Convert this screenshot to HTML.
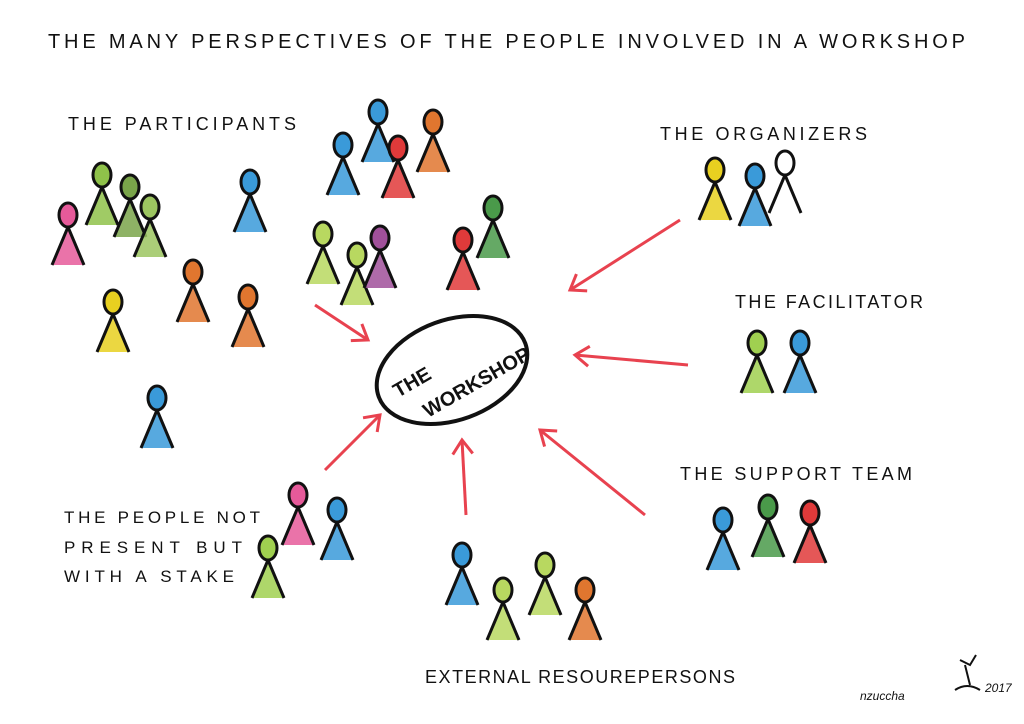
<!DOCTYPE html>
<html><head><meta charset="utf-8"><style>
html,body{margin:0;padding:0;background:#fff;}
svg{display:block}
text{font-family:"Liberation Sans",sans-serif;fill:#111;}
</style></head><body>
<svg width="1024" height="724" viewBox="0 0 1024 724" xmlns="http://www.w3.org/2000/svg">
<defs>
<marker id="ah" markerWidth="24" markerHeight="24" refX="16" refY="12" orient="auto" markerUnits="userSpaceOnUse">
<path d="M2,2 L16,12 L2,22" fill="none" stroke="#e8424f" stroke-width="3"/>
</marker>
<g id="fig">
<path d="M0,12 L-15,50 L15,50 Z" fill="currentColor" opacity="0.85"/>
<path d="M0,12 L-16,50 M0,12 L16,50" stroke="#111" stroke-width="3" fill="none"/>
<ellipse cx="0" cy="0" rx="9" ry="12" fill="currentColor" stroke="#111" stroke-width="3"/>
</g>
</defs>
<text x="48" y="48" font-size="20" textLength="917" lengthAdjust="spacing">THE MANY PERSPECTIVES OF THE PEOPLE INVOLVED IN A WORKSHOP</text>
<text x="68" y="130" font-size="18" textLength="228" lengthAdjust="spacing">THE PARTICIPANTS</text>
<text x="660" y="140" font-size="18" textLength="207" lengthAdjust="spacing">THE ORGANIZERS</text>
<text x="735" y="308" font-size="18" textLength="188" lengthAdjust="spacing">THE FACILITATOR</text>
<text x="680" y="480" font-size="18" textLength="232" lengthAdjust="spacing">THE SUPPORT TEAM</text>
<text x="64" y="523" font-size="17" textLength="196" lengthAdjust="spacing">THE PEOPLE NOT</text>
<text x="64" y="553" font-size="17" textLength="178" lengthAdjust="spacing">PRESENT BUT</text>
<text x="64" y="582" font-size="17" textLength="170" lengthAdjust="spacing">WITH A STAKE</text>
<text x="425" y="683" font-size="18" textLength="310" lengthAdjust="spacing">EXTERNAL RESOUREPERSONS</text>
<text x="860" y="700" font-size="12" font-style="italic">nzuccha</text>
<text x="985" y="692" font-size="12" font-style="italic">2017</text>
<path d="M955,690 q12,-8 25,0 M965,665 l5,20 M960,660 l10,5 l6,-10" stroke="#111" stroke-width="2" fill="none"/>

<g style="color:#e65a9a"><use href="#fig" x="68" y="215"/></g>
<g style="color:#8fc24a"><use href="#fig" x="102" y="175"/></g>
<g style="color:#7aa54a"><use href="#fig" x="130" y="187"/></g>
<g style="color:#9cc560"><use href="#fig" x="150" y="207"/></g>
<g style="color:#3a9ad9"><use href="#fig" x="250" y="182"/></g>
<g style="color:#e0762f"><use href="#fig" x="193" y="272"/></g>
<g style="color:#e8d020"><use href="#fig" x="113" y="302"/></g>
<g style="color:#e0762f"><use href="#fig" x="248" y="297"/></g>
<g style="color:#3a9ad9"><use href="#fig" x="157" y="398"/></g>
<g style="color:#3a9ad9"><use href="#fig" x="343" y="145"/></g>
<g style="color:#3a9ad9"><use href="#fig" x="378" y="112"/></g>
<g style="color:#e03a3a"><use href="#fig" x="398" y="148"/></g>
<g style="color:#e0762f"><use href="#fig" x="433" y="122"/></g>
<g style="color:#b8d860"><use href="#fig" x="323" y="234"/></g>
<g style="color:#b8d860"><use href="#fig" x="357" y="255"/></g>
<g style="color:#a0509a"><use href="#fig" x="380" y="238"/></g>
<g style="color:#e03a3a"><use href="#fig" x="463" y="240"/></g>
<g style="color:#4a9a4a"><use href="#fig" x="493" y="208"/></g>
<g style="color:#e8d020"><use href="#fig" x="715" y="170"/></g>
<g style="color:#3a9ad9"><use href="#fig" x="755" y="176"/></g>
<g style="color:#fff"><use href="#fig" x="785" y="163"/></g>
<g style="color:#a0d050"><use href="#fig" x="757" y="343"/></g>
<g style="color:#3a9ad9"><use href="#fig" x="800" y="343"/></g>
<g style="color:#3a9ad9"><use href="#fig" x="723" y="520"/></g>
<g style="color:#4a9a4a"><use href="#fig" x="768" y="507"/></g>
<g style="color:#e03a3a"><use href="#fig" x="810" y="513"/></g>
<g style="color:#e65a9a"><use href="#fig" x="298" y="495"/></g>
<g style="color:#3a9ad9"><use href="#fig" x="337" y="510"/></g>
<g style="color:#a0d050"><use href="#fig" x="268" y="548"/></g>
<g style="color:#3a9ad9"><use href="#fig" x="462" y="555"/></g>
<g style="color:#b8d860"><use href="#fig" x="503" y="590"/></g>
<g style="color:#b8d860"><use href="#fig" x="545" y="565"/></g>
<g style="color:#e0762f"><use href="#fig" x="585" y="590"/></g>

<ellipse cx="452" cy="370" rx="78" ry="50" transform="rotate(-20 452 370)" fill="#fff" stroke="#111" stroke-width="4"/>
<text x="0" y="0" font-size="20" font-weight="bold" transform="translate(398,398) rotate(-30)">THE</text>
<text x="0" y="0" font-size="20" font-weight="bold" transform="translate(428,418) rotate(-30)">WORKSHOP</text>

<g stroke="#e8424f" stroke-width="3" fill="none" marker-end="url(#ah)">
<line x1="315" y1="305" x2="368" y2="340"/>
<line x1="680" y1="220" x2="570" y2="290"/>
<line x1="688" y1="365" x2="575" y2="355"/>
<line x1="645" y1="515" x2="540" y2="430"/>
<line x1="466" y1="515" x2="462" y2="440"/>
<line x1="325" y1="470" x2="380" y2="415"/>
</g>
</svg>
</body></html>
